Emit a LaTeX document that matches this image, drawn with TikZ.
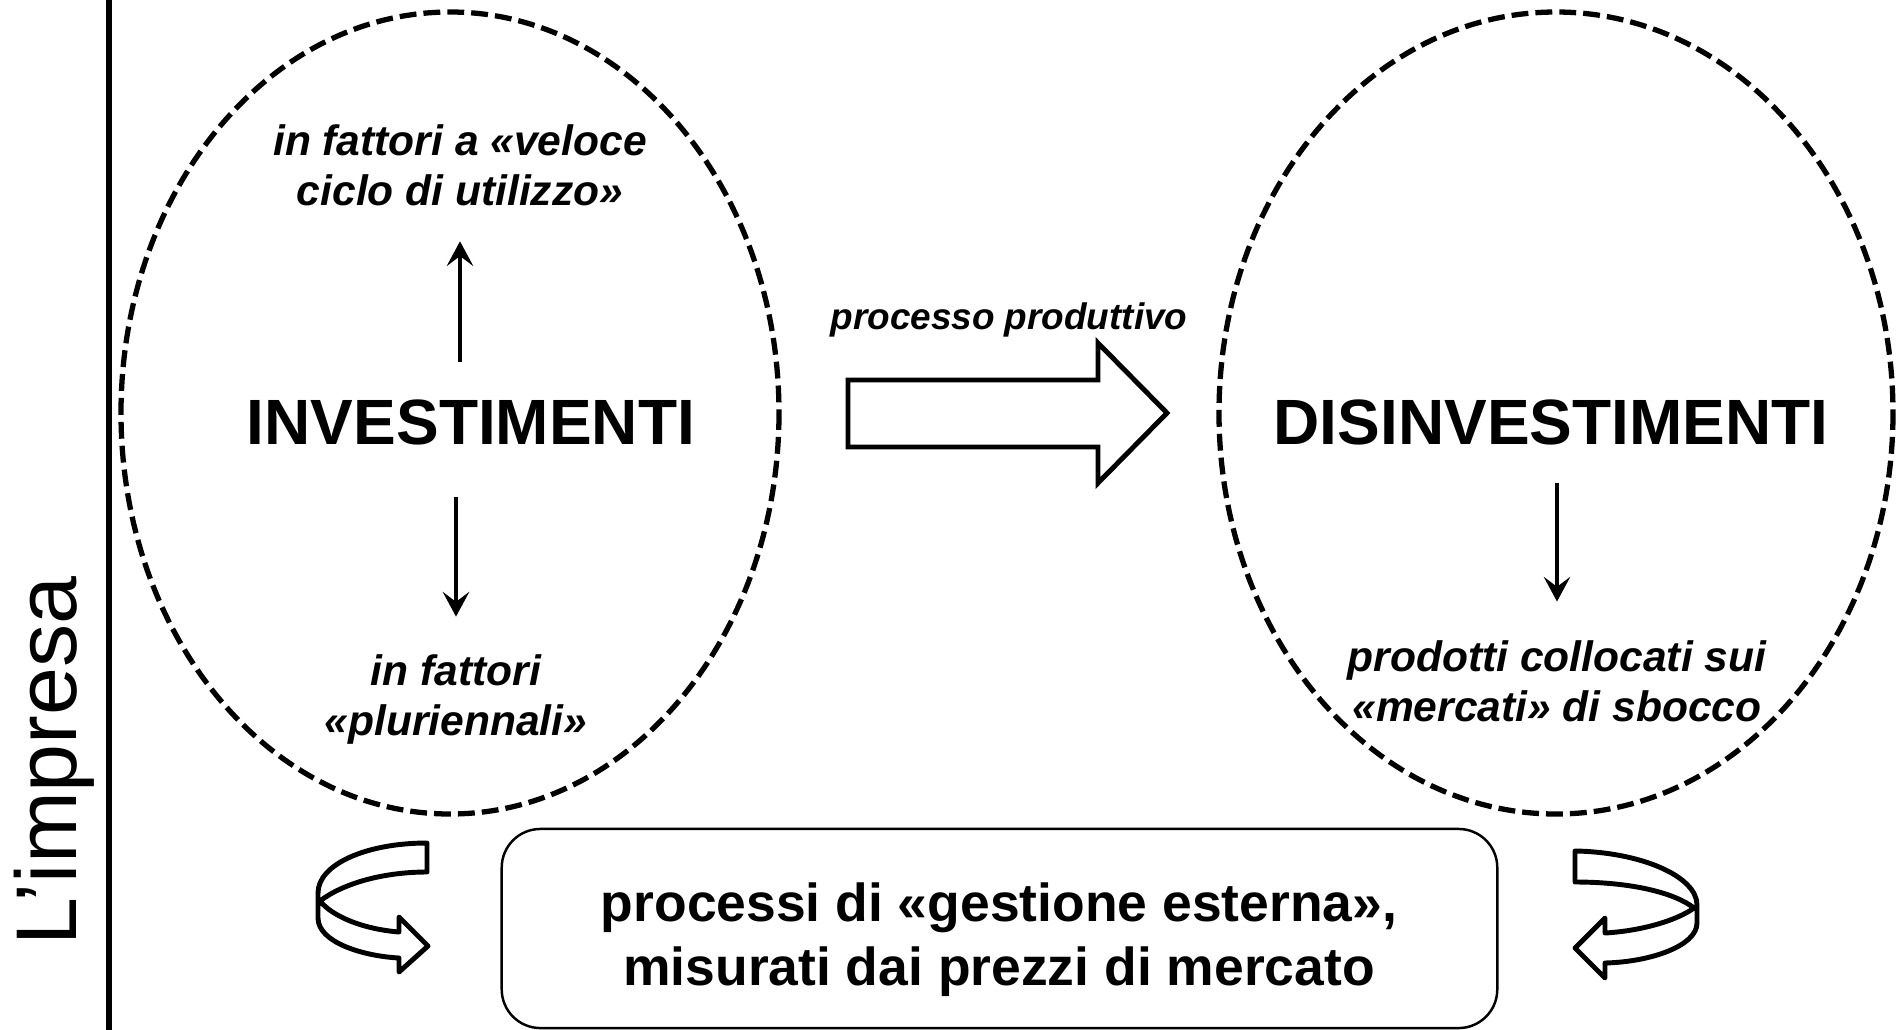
\documentclass[tikz,border=0pt]{standalone}
\usepackage{fontspec}
\setmainfont{Liberation Sans}
\usetikzlibrary{arrows.meta}
\usetikzlibrary{positioning}

\begin{document}
\begin{tikzpicture}[
x=0.01cm, y=-0.01cm,
bigtxt/.style={
font=\fontsize{18.2}{22}\selectfont\bfseries,
inner sep=0pt},
smalltxt/.style={
font=\fontsize{12.1}{14.2}\selectfont\bfseries\itshape,
align=center,
inner sep=0pt},
bubble/.style={line width=1.5pt, dash pattern=on 4.8pt off 2pt},
myarrow/.style={-{Stealth[length=7pt,width=7.5pt,inset=2.8pt]}, line width=1.3pt},
ribbon/.style={line width=1.4pt, line join=round, fill=white},
gestbox/.style={
draw,
line width=0.7pt,
rounded corners=11pt,
minimum width=9.95cm,
minimum height=1.99cm},
gesttxt/.style={
font=\fontsize{15.2}{18.2}\selectfont\bfseries,
align=center,
inner sep=0pt}
]
\useasboundingbox (0,0) rectangle (1896,1030);
\draw[line width=1.7pt] (109,0) -- (109,1030);
\node[rotate=90, anchor=base, inner sep=0pt, font=\fontsize{24.5}{28}\selectfont] (impresa) at (77,761) {L’impresa};
      \draw[bubble] (450,413) ellipse [x radius=329, y radius=401];
      \draw[bubble] (1556,413) ellipse [x radius=337, y radius=401];
      \node[bigtxt, anchor=base] (inv) at (471,444) {INVESTIMENTI};
      \node[bigtxt, anchor=base] (disinv) at (1551,444) {DISINVESTIMENTI};
      \node[smalltxt, anchor=base] (veloce) at (460,205) {in fattori a «veloce\\ciclo di utilizzo»};
      \node[smalltxt, anchor=base] (plurien) at (456,735) {in fattori\\«pluriennali»};
      \node[smalltxt, anchor=base] (sbocco) at (1557,721) {prodotti collocati sui\\«mercati» di sbocco};
      \foreach \i/\j/\a/\b in {
      inv.north/veloce.south/10.5pt/10pt,
      inv.south/plurien.north/14.8pt/10.5pt,
      disinv.south/sbocco.north/10.8pt/10.8pt}
       \draw[myarrow, shorten <=\a, shorten >=\b] (\j |- \i) -- (\j);
      \node[font=\fontsize{10.5}{12}\selectfont\bfseries\itshape, anchor=base, inner sep=0pt] (proc) at (1009,329) {processo produttivo};
      \draw[line width=1.4pt] (848,380) -- (1098,380) -- (1098,343) -- (1167,413) -- (1098,483) -- (1098,447) -- (848,447) -- cycle;
      \node[gestbox] (gest) at (999.5,928.5) {};
      \node[gesttxt, anchor=base] (gesttext) at (999,985) {processi di «gestione esterna»,\\misurati dai prezzi di mercato};
      \draw[ribbon] (427,843) .. controls (367,843) and (318,864) .. (318,893) -- (318,918) .. controls (318,942) and (362,956) .. (399,958) -- (399,972) -- (428,946) -- (399,917) -- (399,932) .. controls (362,929) and (332,916) .. (320,901) .. controls (342,884) and (382,872) .. (427,872) -- cycle;
      \draw[ribbon] (1575,851) .. controls (1640,852) and (1697,876) .. (1697,905) -- (1697,923) .. controls (1697,946) and (1650,962) .. (1605,963) -- (1605,978) -- (1575,948) -- (1605,918) -- (1605,933) .. controls (1640,931) and (1676,921) .. (1694,908) .. controls (1675,893) and (1632,882) .. (1575,882) -- cycle;
\end{tikzpicture}
\end{document}
